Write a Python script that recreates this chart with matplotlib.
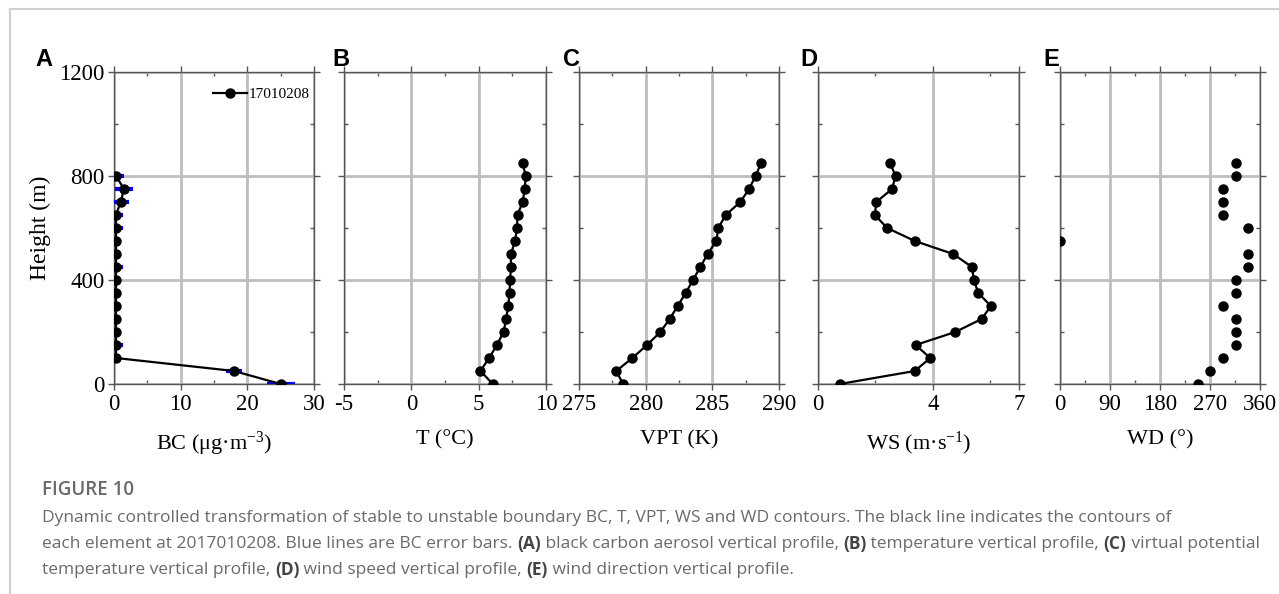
import matplotlib
matplotlib.use("Agg")
import matplotlib.pyplot as plt
from matplotlib.ticker import FixedLocator
from matplotlib.lines import Line2D

# ---------------- data ----------------
heights = [0, 50, 100, 150, 200, 250, 300, 350, 400, 450, 500, 550, 600, 650, 700, 750, 800, 850]

bc_heights = heights[:17]
bc_values = [25.0, 18.0, 0.3, 0.3, 0.3, 0.3, 0.3, 0.3, 0.3, 0.3, 0.3, 0.3, 0.3, 0.3, 1.0, 1.5, 0.3]
bc_errors = [2.1, 1.2, 0.3, 1.1, 0.3, 0.3, 0.3, 0.3, 0.3, 1.1, 0.3, 0.3, 1.1, 1.1, 1.2, 1.35, 1.2]

t_values = [6.05, 5.13, 5.78, 6.35, 6.85, 7.04, 7.19, 7.29, 7.34, 7.39, 7.39, 7.71, 7.84, 7.89, 8.26, 8.43, 8.48, 8.28]
vpt_values = [278.3, 277.8, 279.0, 280.1, 281.1, 281.8, 282.4, 283.0, 283.55, 284.1, 284.65, 285.3, 285.45, 286.0, 287.1, 287.75, 288.25, 288.65]
ws_values = [0.76, 3.37, 3.91, 3.40, 4.78, 5.70, 6.02, 5.58, 5.43, 5.36, 4.71, 3.37, 2.41, 1.98, 2.03, 2.58, 2.70, 2.51]
wd_values = [248, 270, 293, 316, 316, 316, 293, 316, 316, 338, 338, 0, 338, 293, 293, 293, 316, 316]

legend_label = "17010208"
panel_letters = ["A", "B", "C", "D", "E"]
xlabels = [r"BC (μg·m$^{-3}$)", "T (°C)", "VPT (K)", r"WS (m·s$^{-1}$)", "WD (°)"]
xlims = [(0, 30), (-5, 10), (275, 290), (0, 7), (0, 360)]
xmajor = [[0, 10, 20, 30], [-5, 0, 5, 10], [275, 280, 285, 290], [0, 4, 7], [0, 90, 180, 270, 360]]
xminor = [[5, 15, 25], [-2.5, 2.5, 7.5], [277.5, 282.5, 287.5], [2, 6], [45, 135, 225, 315]]
ymajor = [0, 400, 800, 1200]
yminor = [200, 600, 1000]

caption_title = "FIGURE 10"
caption_lines = [
    [("Dynamic controlled transformation of stable to unstable boundary BC, T, VPT, WS and WD contours. The black line indicates the contours of", False)],
    [("each element at 2017010208. Blue lines are BC error bars. ", False), ("(A)", True),
     (" black carbon aerosol vertical profile, ", False), ("(B)", True),
     (" temperature vertical profile, ", False), ("(C)", True), (" virtual potential", False)],
    [("temperature vertical profile, ", False), ("(D)", True), (" wind speed vertical profile, ", False),
     ("(E)", True), (" wind direction vertical profile.", False)],
]

# ---------------- style ----------------
plt.rcParams["font.family"] = ["Liberation Serif", "DejaVu Serif"]
plt.rcParams["mathtext.fontset"] = "custom"
plt.rcParams["mathtext.rm"] = "Liberation Serif"
plt.rcParams["mathtext.it"] = "Liberation Serif:italic"
plt.rcParams["mathtext.default"] = "rm"
plt.rcParams["axes.unicode_minus"] = False

W, H = 1279, 594
fig = plt.figure(figsize=(W / 100, H / 100), dpi=100)

# frame lines
fig.add_artist(Line2D([10 / W, 1.0], [1 - 9 / H, 1 - 9 / H], color="#d0d0d0", lw=1.5))
fig.add_artist(Line2D([10 / W, 10 / W], [0, 1 - 9 / H], color="#d0d0d0", lw=1.5))

lefts = [114, 344, 579, 818, 1060]
widths = [200, 202, 200, 201, 200]
top_px, bot_px = 72, 384
letter_x = [35, 332, 563, 800, 1043]

series = [bc_values, t_values, vpt_values, ws_values, wd_values]
spine_c = "#555555"
grid_c = "#bdbdbd"

for i in range(5):
    ax = fig.add_axes([lefts[i] / W, 1 - bot_px / H, widths[i] / W, (bot_px - top_px) / H])
    ax.set_xlim(*xlims[i])
    ax.set_ylim(0, 1200)
    ax.xaxis.set_major_locator(FixedLocator(xmajor[i]))
    ax.xaxis.set_minor_locator(FixedLocator(xminor[i]))
    ax.yaxis.set_major_locator(FixedLocator(ymajor))
    ax.yaxis.set_minor_locator(FixedLocator(yminor))
    ax.grid(True, which="major", color=grid_c, lw=2.0, zorder=0)
    ax.set_axisbelow(True)
    for s in ax.spines.values():
        s.set_color(spine_c)
        s.set_linewidth(1.0)
    ax.tick_params(which="major", direction="out", length=4, width=1, color=spine_c,
                   labelsize=16.5, top=True, right=True, pad=3)
    ax.tick_params(which="minor", direction="in", length=3, width=1, color=spine_c,
                   top=True, right=True)
    if i > 0:
        ax.tick_params(axis="y", labelleft=False)
    else:
        ax.set_ylabel("Height (m)", fontsize=17, labelpad=6)
    ax.set_xlabel(xlabels[i], fontsize=16, labelpad=11)
    ax.text(letter_x[i] / W, 1 - 59 / H, panel_letters[i], transform=fig.transFigure,
            fontsize=17, fontweight="bold", family="Liberation Sans", ha="left", va="center")

    if i == 0:
        ax.errorbar(bc_values, bc_heights, xerr=bc_errors, fmt="none", ecolor="#0000ff",
                    elinewidth=3, capsize=0, zorder=3)
        ax.plot(bc_values, bc_heights, "-o", color="black", ms=6.5, lw=1.6, zorder=4,
                label=legend_label)
        ax.legend(loc="upper right", bbox_to_anchor=(1.03, 0.985), frameon=False, fontsize=11,
                  handlelength=2.2, handletextpad=0.1, borderaxespad=0.3)
    elif i == 4:
        ax.plot(series[i], heights, "o", color="black", ms=6.5, zorder=4)
    else:
        ax.plot(series[i], heights, "-o", color="black", ms=6.5, lw=1.6, zorder=4)

# ---------------- caption ----------------
renderer = fig.canvas.get_renderer()
cap_color = "#6a6a6a"
cap_bold_color = "#444444"
cap_size = 12.5
cap_family = ["Open Sans", "DejaVu Sans"]

fig.text(42 / W, 1 - 490 / H, caption_title, fontsize=13.5, color="#6a6a6a", family=cap_family,
         fontweight="semibold", ha="left", va="center")


def seg_width(s, bold):
    kw = dict(fontsize=cap_size, family=cap_family, fontweight="bold" if bold else "normal")
    t1 = fig.text(0, 0, "|" + s + "|", **kw)
    t2 = fig.text(0, 0, "||", **kw)
    w = t1.get_window_extent(renderer).width - t2.get_window_extent(renderer).width
    t1.remove()
    t2.remove()
    return w


line_y = [518, 544, 570]
for li, segs in enumerate(caption_lines):
    x = 42.0
    for s, bold in segs:
        fig.text(x / W, 1 - line_y[li] / H, s, fontsize=cap_size, family=cap_family,
                 fontweight="bold" if bold else "normal",
                 color=cap_bold_color if bold else cap_color, ha="left", va="center")
        x += seg_width(s, bold)

fig.savefig("out.png", dpi=100)
